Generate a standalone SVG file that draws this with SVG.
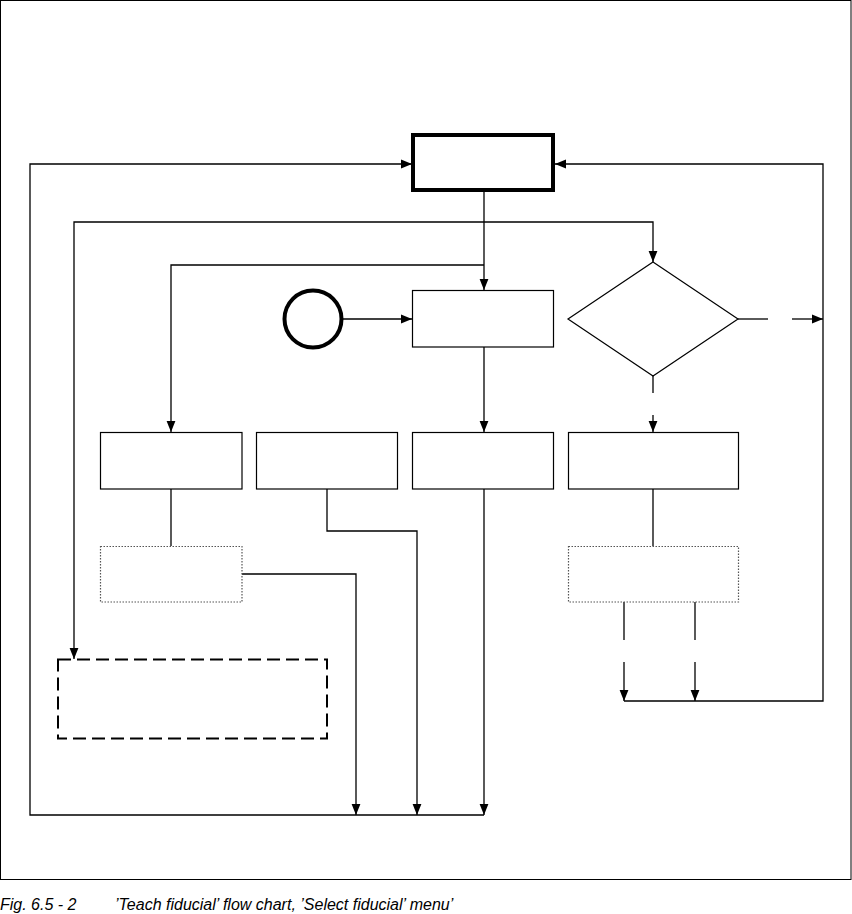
<svg xmlns="http://www.w3.org/2000/svg" width="852" height="914" viewBox="0 0 852 914">
<style>
.ln{fill:none;stroke:#000;stroke-width:1.3}
.box{fill:#fff;stroke:#000;stroke-width:1.2}
.dot{fill:#fff;stroke:#555;stroke-width:1.2;stroke-dasharray:1.5 1.5}
.cap{font-family:"Liberation Sans",Arial,sans-serif;font-style:italic;font-size:16px;fill:#000}
</style>
<defs>
<marker id="ah" viewBox="0 0 10 10" refX="10" refY="5" markerWidth="11" markerHeight="11" markerUnits="userSpaceOnUse" orient="auto">
<path d="M0,1 L10,5 L0,9 Z" fill="#000"/>
</marker>
</defs>
<rect x="0.5" y="0.5" width="850.5" height="879" fill="#fff" stroke="#000" stroke-width="1"/>
<g id="connectors">
<path class="ln" d="M484,191 V290" marker-end="url(#ah)"/>
<path class="ln" d="M484,222 H74 V659" marker-end="url(#ah)"/>
<path class="ln" d="M484,222 H653 V262" marker-end="url(#ah)"/>
<path class="ln" d="M484,265 H171 V432" marker-end="url(#ah)"/>
<path class="ln" d="M342,319 H412" marker-end="url(#ah)"/>
<path class="ln" d="M738,319 H768"/>
<path class="ln" d="M792,319 H823" marker-end="url(#ah)"/>
<path class="ln" d="M653,376 V393"/>
<path class="ln" d="M653,415 V432" marker-end="url(#ah)"/>
<path class="ln" d="M484,347 V432" marker-end="url(#ah)"/>
<path class="ln" d="M171,489 V546"/>
<path class="ln" d="M242,574 H356 V815" marker-end="url(#ah)"/>
<path class="ln" d="M327,489 V531 H417 V815" marker-end="url(#ah)"/>
<path class="ln" d="M484,489 V815" marker-end="url(#ah)"/>
<path class="ln" d="M484,815 H30 V164 H412" marker-end="url(#ah)"/>
<path class="ln" d="M653,489 V546"/>
<path class="ln" d="M624,602 V640"/>
<path class="ln" d="M624,662 V701" marker-end="url(#ah)"/>
<path class="ln" d="M695,602 V640"/>
<path class="ln" d="M695,662 V701" marker-end="url(#ah)"/>
<path class="ln" d="M624,701 H823 V164 H555" marker-end="url(#ah)"/>
</g>
<g id="start"><rect x="413" y="135" width="140" height="55" fill="#fff" stroke="#000" stroke-width="4"/></g>
<g id="circle"><circle cx="313" cy="319" r="28.5" fill="#fff" stroke="#000" stroke-width="4"/></g>
<g id="boxTop"><rect class="box" x="412.5" y="290.5" width="141" height="56.5"/></g>
<g id="decision"><polygon class="box" points="653,262 738,319 653,376 568,319"/></g>
<g id="boxA"><rect class="box" x="100.5" y="432.5" width="141.5" height="56.5"/></g>
<g id="boxB"><rect class="box" x="256.5" y="432.5" width="141" height="56.5"/></g>
<g id="boxC"><rect class="box" x="412.5" y="432.5" width="141" height="56.5"/></g>
<g id="boxD"><rect class="box" x="568.5" y="432.5" width="170" height="56.5"/></g>
<g id="dotA"><rect class="dot" x="100.5" y="546.5" width="141.5" height="55.5"/></g>
<g id="dotD"><rect class="dot" x="568.5" y="546.5" width="170" height="55.5"/></g>
<g id="dashed"><rect x="58" y="659.5" width="269" height="79" fill="#fff" stroke="#000" stroke-width="2" stroke-dasharray="13 6"/></g>
<g id="caption">
<text class="cap" x="0" y="910">Fig. 6.5 - 2</text>
<text class="cap" x="115" y="910">’Teach fiducial’ flow chart, ’Select fiducial’ menu’</text>
</g>
</svg>
